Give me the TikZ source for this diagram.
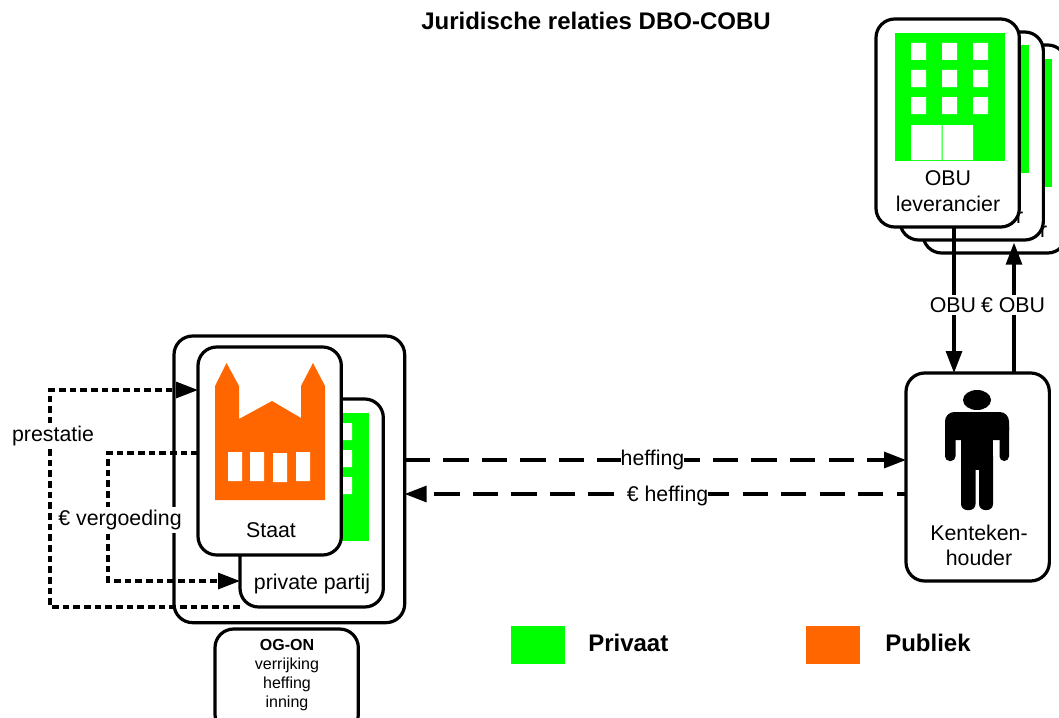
\documentclass[tikz,border=0pt]{standalone}
\usepackage{fontspec}
\setmainfont{Liberation Sans}
\usetikzlibrary{arrows.meta}
\definecolor{priv}{RGB}{0,255,0}
\definecolor{publ}{RGB}{255,102,0}
\tikzset{
  x=0.75pt,y=-0.75pt,
  card/.style={draw=black,fill=white,line width=2.4pt,rounded corners=14pt,outer sep=0pt,inner sep=0pt,anchor=north west},
  cardsize/.style={card,minimum width=107.5pt,minimum height=156pt},
  lbl/.style={inner sep=0pt,font=\fontsize{16}{19}\selectfont,align=center},
  mask/.style={lbl,fill=white,inner xsep=0pt,inner ysep=2pt},
  small/.style={inner sep=0pt,font=\fontsize{12}{14.3}\selectfont,align=center},
  head/.style={-{Triangle[length=16.5pt,width=12pt]}},
  solidcon/.style={line width=2.3pt},
  longdash/.style={line width=2.3pt,dash pattern=on 19pt off 9.9pt},
  dotcon/.style={line width=2.3pt,dash pattern=on 5pt off 3pt},
  legendtext/.style={inner sep=0pt,font=\fontsize{18}{21}\selectfont\bfseries},
}
\newcommand{\officeblock}[2]{%
  \begin{scope}[shift={(#1,#2)}]
    \fill[priv] (0,0) rectangle (110,128);
    \fill[white] (16,10) rectangle (31,27) (47,10) rectangle (62,27) (78,10) rectangle (93,27)
      (16,37) rectangle (31,54) (47,37) rectangle (62,54) (78,37) rectangle (93,54)
      (16,64) rectangle (31,81) (47,64) rectangle (62,81) (78,64) rectangle (93,81)
      (16,92) rectangle (46.5,127) (47.5,92) rectangle (78,127);
  \end{scope}}
\begin{document}
\begin{tikzpicture}
\clip (0,0) rectangle (1059,717);
\fill[white] (0,0) rectangle (1059,717);

\node[inner sep=0pt,font=\fontsize{18}{21}\selectfont\bfseries] (title) at (596,21) {Juridische relaties DBO-COBU};

% OBU suppliers, back to front
\node[cardsize] (obuc) at (923,45) {};
\officeblock{942}{59}
\node[lbl] (obuct) at (995,217) {OBU\\leverancier};
\node[cardsize] (obub) at (900,32) {};
\officeblock{919}{45}
\node[lbl] (obubt) at (971,203) {OBU\\leverancier};
\node[cardsize] (obua) at (876,19) {};
\officeblock{895}{33}
\node[lbl] (obuat) at (948,191) {OBU\\leverancier};

% Outer party box
\node[card,minimum width=173pt,minimum height=215pt] (outer) at (174,336) {};

% Private party
\node[cardsize] (priv) at (240,399) {};
\officeblock{259}{413}
\node[lbl] (privt) at (312,584) {private partij};

% Staat
\node[cardsize] (staat) at (198,347) {};
\fill[publ] (215,386) -- (226.5,363) -- (239,386) -- (239,419) -- (272,401) -- (301,418) -- (301,386) -- (313,363) -- (325,386) -- (325,500) -- (215,500) -- cycle;
\fill[white] (228,452) rectangle (242,481) (250,452) rectangle (264,481) (273,453) rectangle (287,482) (296,452) rectangle (310,481);
\node[lbl] (staatt) at (271,530) {Staat};

% OG-ON
\node[card,minimum width=107.5pt,minimum height=78pt] (ogon) at (215,629) {};
\node[small] (ogont) at (287,675) {\textbf{OG-ON}\\verrijking\\heffing\\inning};

% Kentekenhouder
\node[cardsize] (kent) at (906,373) {};
\fill[black] (977,400) ellipse [x radius=14,y radius=10];
\fill[black,rounded corners=7pt] (945,412) rectangle (1009,440);
\fill[black,rounded corners=3.5pt] (945,422) rectangle (955.5,461);
\fill[black,rounded corners=3.5pt] (999.5,422) rectangle (1009,461);
\fill[black] (961,426) rectangle (993,470);
\fill[black,rounded corners=4.5pt] (961,450) rectangle (975.5,510);
\fill[black,rounded corners=4.5pt] (979,450) rectangle (993,510);
\node[lbl] (kentt) at (979,545.5) {Kenteken-\\houder};

% Connectors
\draw[solidcon,head] (obua.south -| 954,0) -- (kent.north -| 954,0);
\draw[solidcon,head,shorten >=2pt] (kent.north -| 1014,0) -- (obub.south -| 1014,0);
\node[mask] (lobu) at (953,305) {OBU};
\node[mask] (leobu) at (1013,305) {€ OBU};

\draw[longdash,head] (outer.east |- 0,460) -- (kent.west |- 0,460);
\draw[longdash,dash phase=12pt,head] (kent.west |- 0,494) -- (outer.east |- 0,494);
\node[mask] (lheff) at (652.5,460) {heffing};
\node[mask] (leheff) at (667.5,496) {€ heffing};

\coordinate (pa) at (50,607);
\coordinate (pb) at (50,390);
\draw[dotcon,head] (priv.west |- pa) -- (pa) -- (pb) -- (staat.west |- pb);
\coordinate (va) at (108,453);
\coordinate (vb) at (108,581);
\draw[dotcon,head] (staat.west |- va) -- (va) -- (vb) -- (priv.west |- vb);
\node[mask] (lpres) at (53,436) {prestatie};
\node[mask] (lverg) at (120,520) {€ vergoeding};

% Legend
\node[fill=priv,inner sep=0pt,minimum width=40.5pt,minimum height=28pt,anchor=north west] (legp) at (511,626) {};
\node[legendtext,anchor=west] (legpt) at (588,643) {Privaat};
\node[fill=publ,inner sep=0pt,minimum width=40.5pt,minimum height=28pt,anchor=north west] (lego) at (806,626) {};
\node[legendtext,anchor=west] (legot) at (885,643) {Publiek};
\end{tikzpicture}
\end{document}
